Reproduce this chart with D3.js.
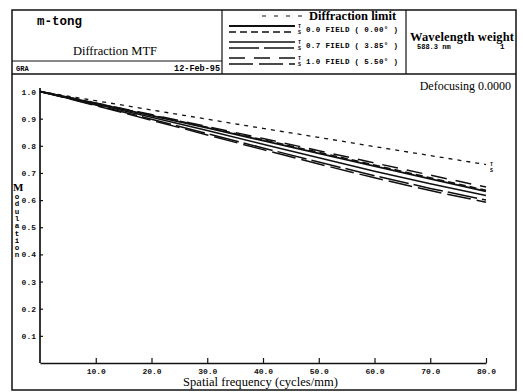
<!DOCTYPE html>
<html>
<head>
<meta charset="utf-8">
<script src="https://cdn.jsdelivr.net/npm/d3@7"></script>
<style>
  body { margin: 0; background: #fff; }
  .mono { font-family: "Liberation Mono", "DejaVu Sans Mono", monospace; font-weight: bold; }
  .serif { font-family: "Liberation Serif", "DejaVu Serif", serif; }
</style>
</head>
<body>
<div id="chart"></div>
<script>
// spatial frequency samples (cycles/mm)
const freqs = [0, 10, 20, 30, 40, 50, 60, 70, 80];

// MTF values
const diffLimit = [1.0, 0.966, 0.932, 0.898, 0.864, 0.831, 0.797, 0.764, 0.731];
const field00T = [1.0, 0.956, 0.911, 0.866, 0.819, 0.772, 0.725, 0.678, 0.632];
const field00S = [1.0, 0.957, 0.913, 0.868, 0.822, 0.776, 0.729, 0.682, 0.636];
const field07T = [1.0, 0.953, 0.905, 0.856, 0.806, 0.756, 0.706, 0.660, 0.617];
const field07S = [1.0, 0.950, 0.898, 0.845, 0.792, 0.740, 0.690, 0.643, 0.600];
const field10T = [1.0, 0.958, 0.915, 0.871, 0.827, 0.782, 0.737, 0.692, 0.648];
const field10S = [1.0, 0.948, 0.894, 0.840, 0.786, 0.733, 0.682, 0.635, 0.592];

const xTicks = [10, 20, 30, 40, 50, 60, 70, 80];
const yTicks = [0.1, 0.2, 0.3, 0.4, 0.5, 0.6, 0.7, 0.8, 0.9, 1.0];
const fieldLabels = ["0.0 FIELD ( 0.00\u00b0 )", "0.7 FIELD ( 3.85\u00b0 )", "1.0 FIELD ( 5.50\u00b0 )"];

// line styles per series
const series = [
  { values: diffLimit, dash: "4,5", w: 1.3 },
  { values: field00T, dash: null, w: 1.8 },
  { values: field00S, dash: "7,4", w: 1.6 },
  { values: field07T, dash: null, w: 1.5 },
  { values: field07S, dash: "30,5", w: 1.5 },
  { values: field10T, dash: "16,9", w: 1.5 },
  { values: field10S, dash: "24,6", w: 1.5 }
];

const W = 523, H = 392;
const svg = d3.select("#chart").append("svg")
  .attr("width", W).attr("height", H);

const ink = "#111";

// outer frame + header boxes
svg.append("rect").attr("x", 12).attr("y", 10).attr("width", 504).attr("height", 380)
  .attr("fill", "none").attr("stroke", ink).attr("stroke-width", 1.5);
svg.append("line").attr("x1", 12).attr("x2", 516).attr("y1", 74).attr("y2", 74)
  .attr("stroke", ink).attr("stroke-width", 1.5);
svg.append("line").attr("x1", 12).attr("x2", 222).attr("y1", 61).attr("y2", 61)
  .attr("stroke", ink).attr("stroke-width", 1.2);
svg.append("line").attr("x1", 222).attr("x2", 222).attr("y1", 10).attr("y2", 74)
  .attr("stroke", ink).attr("stroke-width", 1.2);
svg.append("line").attr("x1", 406).attr("x2", 406).attr("y1", 10).attr("y2", 74)
  .attr("stroke", ink).attr("stroke-width", 1.2);

// header texts
svg.append("text").attr("class", "mono").attr("x", 37).attr("y", 25)
  .attr("font-size", 12.5).text("m-tong");
svg.append("text").attr("class", "serif").attr("x", 115).attr("y", 55)
  .attr("text-anchor", "middle").attr("font-size", 12.5).text("Diffraction MTF");
svg.append("text").attr("class", "mono").attr("x", 16).attr("y", 71)
  .attr("font-size", 7).text("GRA");
svg.append("text").attr("class", "mono").attr("x", 220).attr("y", 71)
  .attr("text-anchor", "end").attr("font-size", 8.5).text("12-Feb-95");

// legend
svg.append("line").attr("x1", 262).attr("x2", 305).attr("y1", 16).attr("y2", 16)
  .attr("stroke", ink).attr("stroke-width", 1.2).attr("stroke-dasharray", "4,8");
svg.append("text").attr("class", "serif").attr("x", 309).attr("y", 20)
  .attr("font-size", 12.5).attr("font-weight", "bold").text("Diffraction limit");

const legendRows = [
  { t: series[1], s: series[2], y: 29 },
  { t: series[3], s: series[4], y: 45 },
  { t: series[5], s: series[6], y: 61 }
];
legendRows.forEach((r, i) => {
  svg.append("line").attr("x1", 229).attr("x2", 295).attr("y1", r.y - 3).attr("y2", r.y - 3)
    .attr("stroke", ink).attr("stroke-width", r.t.w).attr("stroke-dasharray", r.t.dash);
  svg.append("line").attr("x1", 229).attr("x2", 295).attr("y1", r.y + 3).attr("y2", r.y + 3)
    .attr("stroke", ink).attr("stroke-width", r.s.w).attr("stroke-dasharray", r.s.dash);
  svg.append("text").attr("class", "mono").attr("x", 298).attr("y", r.y - 1)
    .attr("font-size", 5).text("T");
  svg.append("text").attr("class", "mono").attr("x", 298).attr("y", r.y + 5)
    .attr("font-size", 5).text("S");
  svg.append("text").attr("class", "mono").attr("x", 306).attr("y", r.y + 3)
    .attr("font-size", 7.5).attr("textLength", 92).text(fieldLabels[i]);
});

svg.append("text").attr("class", "serif").attr("x", 410).attr("y", 41)
  .attr("font-size", 12.5).attr("font-weight", "bold").attr("textLength", 104).text("Wavelength weight");
svg.append("text").attr("class", "mono").attr("x", 417).attr("y", 49)
  .attr("font-size", 7).text("588.3 nm");
svg.append("text").attr("class", "mono").attr("x", 500).attr("y", 49)
  .attr("font-size", 7.5).text("1");

// plot
const x = d3.scaleLinear().domain([0, 80]).range([40, 486]);
const y = d3.scaleLinear().domain([0, 1]).range([363, 91.5]);

const yAxis = d3.axisLeft(y).tickValues(yTicks).tickFormat(d3.format(".1f"))
  .tickSizeInner(-3).tickSizeOuter(0).tickPadding(4);
const yg = svg.append("g").attr("transform", "translate(40,0)").call(yAxis);
yg.select(".domain").attr("stroke", ink).attr("stroke-width", 1.7)
  .attr("d", `M0,${y(0)}V88`);
yg.selectAll("line").attr("stroke", ink).attr("stroke-width", 1.2);
yg.selectAll("text").attr("class", "mono").attr("font-size", 8).attr("fill", ink);

const xAxis = d3.axisBottom(x).tickValues(xTicks).tickFormat(d3.format(".1f"))
  .tickSizeInner(-5).tickSizeOuter(0).tickPadding(5);
const xg = svg.append("g").attr("transform", `translate(0,${y(0)})`).call(xAxis);
xg.select(".domain").attr("stroke", ink).attr("stroke-width", 1.7);
xg.selectAll("line").attr("stroke", ink).attr("stroke-width", 1.2);
xg.selectAll("text").attr("class", "mono").attr("font-size", 8).attr("fill", ink);

// axis titles
svg.append("text").attr("class", "serif").attr("x", 183).attr("y", 386)
  .attr("font-size", 12.5).attr("textLength", 155).text("Spatial frequency (cycles/mm)");
svg.append("text").attr("class", "serif").attr("x", 13).attr("y", 191)
  .attr("font-size", 11).attr("font-weight", "bold").text("M");
"odulation".split("").forEach((c, i) => {
  svg.append("text").attr("class", "mono").attr("x", 17).attr("y", 199 + i * 7.3)
    .attr("text-anchor", "middle").attr("font-size", 7.5).text(c);
});

svg.append("text").attr("class", "serif").attr("x", 511).attr("y", 90)
  .attr("text-anchor", "end").attr("font-size", 12).text("Defocusing 0.0000");

// curves
const line = d3.line().x((d, i) => x(freqs[i])).y(d => y(d));
svg.append("g").selectAll("path").data(series).join("path")
  .attr("d", d => line(d.values))
  .attr("fill", "none").attr("stroke", ink)
  .attr("stroke-width", d => d.w)
  .attr("stroke-dasharray", d => d.dash);

// T / S marks at the end of the diffraction curve
svg.append("text").attr("class", "mono").attr("x", x(80) + 4).attr("y", y(diffLimit[8]) + 1)
  .attr("font-size", 5).text("T");
svg.append("text").attr("class", "mono").attr("x", x(80) + 4).attr("y", y(diffLimit[8]) + 7)
  .attr("font-size", 5).text("S");
</script>
</body>
</html>
